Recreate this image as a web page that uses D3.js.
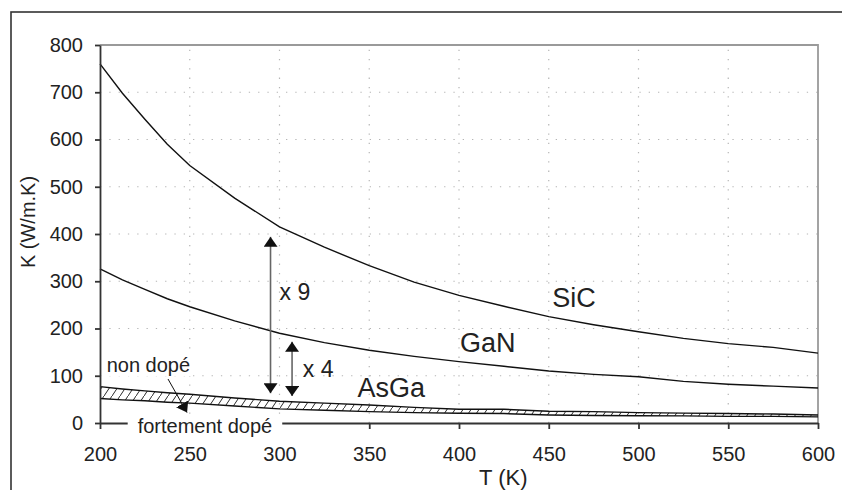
<!DOCTYPE html>
<html>
<head>
<meta charset="utf-8">
<script src="https://cdn.jsdelivr.net/npm/d3@7"></script>
<style>
  body { margin: 0; background: #fff; }
  svg { display: block; font-family: "Liberation Sans", Arial, sans-serif; }
</style>
</head>
<body>
<script>
// temperatures (K) and thermal conductivity (W/m.K)
const temps = [200, 212.5, 225, 237.5, 250, 275, 300, 325, 350, 375, 400, 425, 450, 475, 500, 525, 550, 575, 600];
const sic = [760, 698, 643, 590, 545, 476, 415, 372, 333, 298, 270, 247, 225, 208, 193, 179, 168, 160, 148];
const gan = [326, 303, 283, 263, 246, 216, 190, 170, 154, 141, 130, 120, 110, 103, 98, 88, 82, 78, 74];
const asgaUndoped = [77, 72, 68, 64, 61, 53, 46, 42, 38, 33, 29, 29, 25, 24, 22, 21, 20, 19, 17];
const asgaDoped = [52, 49, 47, 44, 42, 36, 30, 27, 24, 22, 20.5, 20, 17, 16, 15.5, 15, 14, 14, 13];

const xTicks = [200, 250, 300, 350, 400, 450, 500, 550, 600];
const yTicks = [0, 100, 200, 300, 400, 500, 600, 700, 800];

const width = 842;
const height = 490;

const svg = d3.select("body").append("svg")
    .attr("width", width)
    .attr("height", height);

const x = d3.scaleLinear().domain([200, 600]).range([100, 818]);
const y = d3.scaleLinear().domain([0, 800]).range([423, 45]);

// outer frame (cut by the picture edge on the right and bottom)
svg.append("rect")
    .attr("x", 11).attr("y", 12)
    .attr("width", 900).attr("height", 600)
    .attr("fill", "none")
    .attr("stroke", "#333")
    .attr("stroke-width", 1.6);

const defs = svg.append("defs");
defs.append("pattern")
    .attr("id", "hatch")
    .attr("patternUnits", "userSpaceOnUse")
    .attr("width", 8).attr("height", 12)
    .append("path")
    .attr("d", "M0,12 L8,0")
    .attr("stroke", "#111")
    .attr("stroke-width", 0.9);

defs.append("marker")
    .attr("id", "head")
    .attr("viewBox", "0 0 10 14")
    .attr("refX", 10).attr("refY", 7)
    .attr("markerWidth", 10).attr("markerHeight", 14)
    .attr("markerUnits", "userSpaceOnUse")
    .attr("orient", "auto-start-reverse")
    .append("path")
    .attr("d", "M0,0 L10,7 L0,14 Z")
    .attr("fill", "#111");

// dotted grid
svg.append("g").selectAll("line")
    .data(yTicks.slice(1, -1))
    .enter().append("line")
    .attr("x1", x(200)).attr("x2", x(600))
    .attr("y1", d => y(d)).attr("y2", d => y(d))
    .attr("stroke", "#b5b5b5")
    .attr("stroke-width", 1.2)
    .attr("stroke-dasharray", "1.3,8");

svg.append("g").selectAll("line")
    .data(xTicks.slice(1, -1))
    .enter().append("line")
    .attr("y1", y(0)).attr("y2", y(800))
    .attr("x1", d => x(d)).attr("x2", d => x(d))
    .attr("stroke", "#b5b5b5")
    .attr("stroke-width", 1.2)
    .attr("stroke-dasharray", "1.3,8");

// plot border top and right
svg.append("path")
    .attr("d", `M${x(200)},${y(800)} H${x(600)} V${y(0)}`)
    .attr("fill", "none")
    .attr("stroke", "#9a9a9a")
    .attr("stroke-width", 1.8);

// AsGa band
const rows = temps.map((t, i) => ({ t, hi: asgaUndoped[i], lo: asgaDoped[i] }));
svg.append("path")
    .datum(rows)
    .attr("d", d3.area().x(d => x(d.t)).y0(d => y(d.lo)).y1(d => y(d.hi)))
    .attr("fill", "url(#hatch)");

const line = d3.line().x(d => x(d[0])).y(d => y(d[1]));
[sic, gan, asgaUndoped, asgaDoped].forEach(s => {
    svg.append("path")
        .datum(temps.map((t, i) => [t, s[i]]))
        .attr("d", line)
        .attr("fill", "none")
        .attr("stroke", "#111")
        .attr("stroke-width", 1.4);
});

// axes
const xAxis = svg.append("g")
    .attr("transform", `translate(0,${y(0)})`)
    .call(d3.axisBottom(x).tickValues(xTicks).tickSize(6).tickSizeOuter(0).tickPadding(18));
const yAxis = svg.append("g")
    .attr("transform", `translate(${x(200)},0)`)
    .call(d3.axisLeft(y).tickValues(yTicks).tickSize(5).tickSizeOuter(0).tickPadding(12));
[xAxis, yAxis].forEach(g => {
    g.selectAll("path, line").attr("stroke", "#333").attr("stroke-width", 1.8);
    g.selectAll("text")
        .attr("fill", "#222")
        .style("font-size", "20px")
        .style("font-family", "'Liberation Sans', Arial, sans-serif");
});

svg.append("text")
    .attr("transform", "translate(35,222) rotate(-90)")
    .attr("text-anchor", "middle")
    .attr("fill", "#222")
    .style("font-size", "20px")
    .text("K (W/m.K)");

svg.append("text")
    .attr("x", 479).attr("y", 485)
    .attr("fill", "#222")
    .style("font-size", "22px")
    .text("T (K)");

// ratio arrows
const arrows = [
    { t: 295, from: 63, to: 394 },
    { t: 307, from: 57, to: 172 }
];
svg.append("g").selectAll("line")
    .data(arrows)
    .enter().append("line")
    .attr("x1", d => x(d.t)).attr("x2", d => x(d.t))
    .attr("y1", d => y(d.from)).attr("y2", d => y(d.to))
    .attr("stroke", "#666")
    .attr("stroke-width", 1.6)
    .attr("marker-start", "url(#head)")
    .attr("marker-end", "url(#head)");

// series labels
const labels = [
    { text: "SiC", t: 452, v: 245, size: 27 },
    { text: "GaN", t: 400.5, v: 151, size: 27 },
    { text: "AsGa", t: 343.5, v: 56, size: 27 },
    { text: "x 9", t: 300, v: 260, size: 23 },
    { text: "x 4", t: 313, v: 98, size: 23 }
];
svg.append("g").selectAll("text")
    .data(labels)
    .enter().append("text")
    .attr("x", d => x(d.t)).attr("y", d => y(d.v))
    .attr("fill", "#222")
    .style("font-size", d => d.size + "px")
    .text(d => d.text);

// doping labels with white backing
const nd = svg.append("text")
    .attr("x", x(203.7)).attr("y", y(108))
    .attr("fill", "#222")
    .style("font-size", "20px")
    .text("non dopé");
const fd = svg.append("text")
    .attr("x", x(221)).attr("y", y(-20.5))
    .attr("fill", "#222")
    .style("font-size", "20px")
    .text("fortement dopé");
[nd, fd].forEach((t, i) => {
    const b = t.node().getBBox();
    const pad = i ? 10 : 2;
    svg.insert("rect", () => t.node())
        .attr("x", b.x - pad).attr("y", b.y)
        .attr("width", b.width + 2 * pad).attr("height", b.height)
        .attr("fill", "#fff");
});

svg.append("line")
    .attr("x1", 168).attr("y1", 379)
    .attr("x2", x(248.5)).attr("y2", y(22))
    .attr("stroke", "#111")
    .attr("stroke-width", 1)
    .attr("marker-end", "url(#head)");
</script>
</body>
</html>
